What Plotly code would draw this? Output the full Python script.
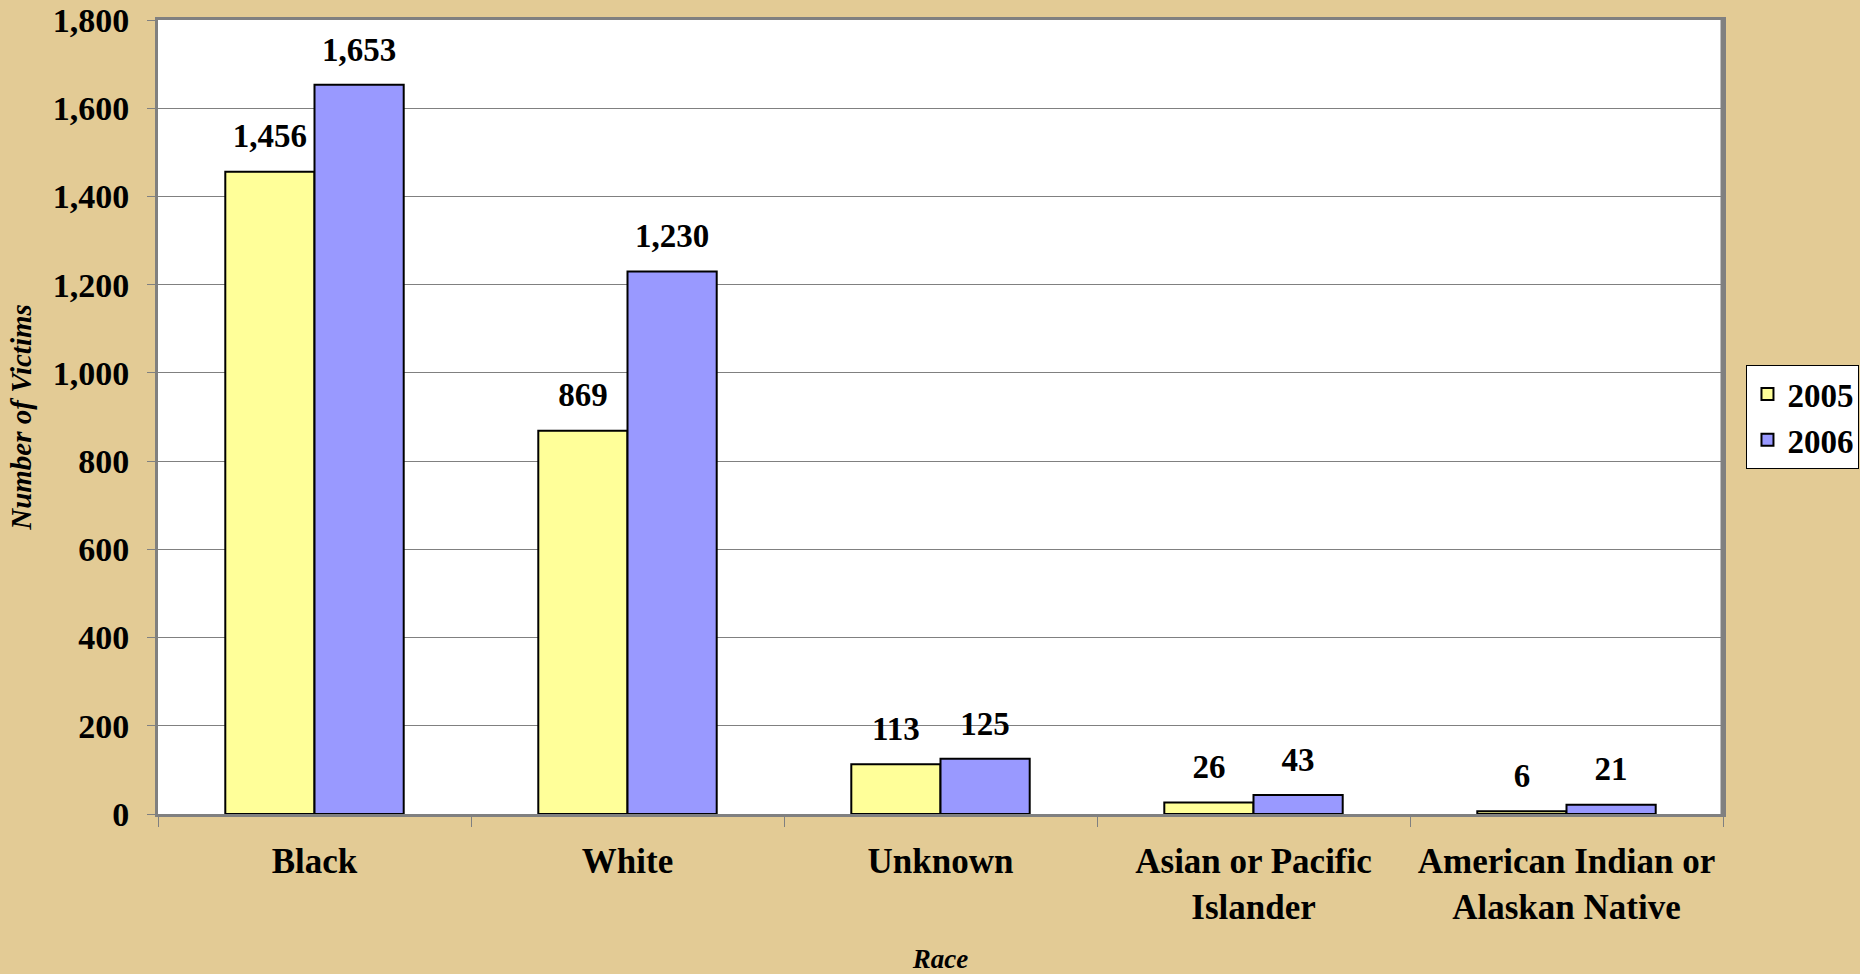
import plotly.graph_objects as go

# data
races = [
    "Black",
    "White",
    "Unknown",
    "Asian or Pacific<br>Islander",
    "American Indian or<br>Alaskan Native",
]
victims_2005 = [1456, 869, 113, 26, 6]
victims_2006 = [1653, 1230, 125, 43, 21]
y_ticks = [0, 200, 400, 600, 800, 1000, 1200, 1400, 1600, 1800]

SERIF = "Liberation Serif, Times New Roman, serif"
GRID = "#808080"
BG = "#E3CB95"

fig = go.Figure()

series = [("2005", victims_2005, "#FFFF99"), ("2006", victims_2006, "#9999FF")]
for name, vals, color in series:
    fig.add_trace(
        go.Bar(
            x=races,
            y=vals,
            name=name,
            offsetgroup=name,
            marker=dict(color=color, line=dict(color="black", width=2)),
            hoverinfo="skip",
        )
    )

# value labels sit a little above each bar, like the Excel original
for name, vals, color in series:
    fig.add_trace(
        go.Scatter(
            x=races,
            y=vals,
            mode="markers+text",
            offsetgroup=name,
            text=[f"{v:,}" for v in vals],
            textposition="top center",
            textfont=dict(family=SERIF, size=33, color="black", weight="bold"),
            marker=dict(size=24, opacity=0),
            showlegend=False,
            cliponaxis=False,
            hoverinfo="skip",
        )
    )

fig.update_layout(
    width=1860,
    height=974,
    paper_bgcolor=BG,
    plot_bgcolor="white",
    barmode="group",
    bargap=0.43,
    bargroupgap=0,
    scattermode="group",
    scattergap=0.43,
    margin=dict(l=158, r=137, t=20, b=160, autoexpand=False),
    font=dict(family=SERIF, color="black"),
    legend=dict(
        x=1.015,
        y=0.5,
        xanchor="left",
        yanchor="middle",
        bgcolor="white",
        bordercolor="black",
        borderwidth=1,
        font=dict(family=SERIF, size=33, weight="bold"),
        itemwidth=30,
        tracegroupgap=0,
    ),
    xaxis=dict(
        automargin=False,
        showgrid=False,
        showline=True,
        linecolor=GRID,
        linewidth=3,
        mirror=True,
        ticks="outside",
        tickson="boundaries",
        ticklen=10,
        tickcolor=GRID,
        tickwidth=1,
        ticklabelstandoff=14,
        tickfont=dict(family=SERIF, size=35, weight="bold"),
        title=dict(
            text="<i>Race</i>",
            font=dict(family=SERIF, size=27, weight="bold"),
            standoff=32,
        ),
    ),
    yaxis=dict(
        automargin=False,
        range=[0, 1800],
        tickvals=y_ticks,
        tickformat=",",
        showgrid=True,
        gridcolor=GRID,
        gridwidth=1,
        zeroline=False,
        showline=True,
        linecolor=GRID,
        linewidth=3,
        mirror=True,
        ticks="outside",
        ticklen=8,
        tickcolor=GRID,
        tickwidth=1,
        ticklabelstandoff=11,
        tickfont=dict(family=SERIF, size=34, weight="bold"),
        title=dict(
            text="<i>Number of Victims</i>",
            font=dict(family=SERIF, size=29, weight="bold"),
            standoff=13,
        ),
    ),
)

# Excel draws a heavier shadow edge on the right of the plot area
fig.add_shape(
    type="line",
    xref="paper",
    yref="paper",
    x0=1,
    x1=1,
    y0=0,
    y1=1,
    line=dict(color=GRID, width=5),
)

# drop the browser's default body margin so the figure fills the window
fig.write_html(
    "out.html",
    config={"displayModeBar": False},
    post_script="document.body.style.margin='0';",
)
